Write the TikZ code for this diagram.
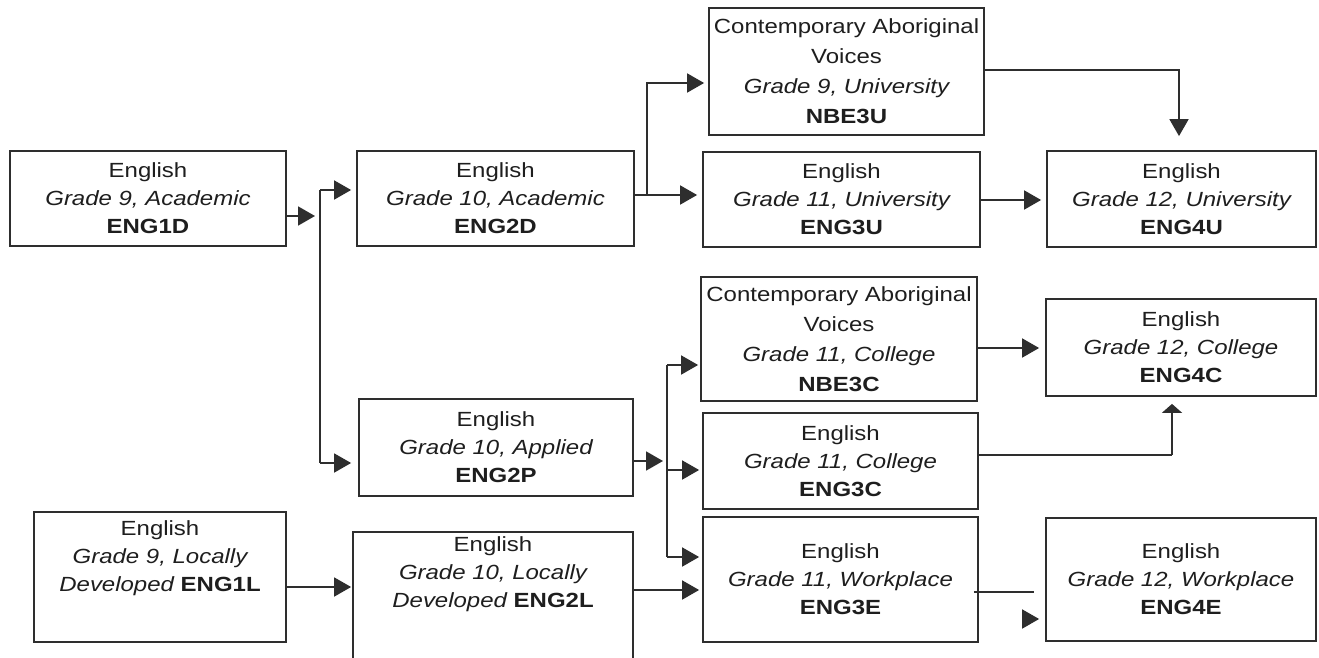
\documentclass[tikz,border=0pt]{standalone}
\usepackage{fontspec}
\setmainfont{Liberation Sans}[FakeStretch=1.17]
\usetikzlibrary{arrows.meta}
\definecolor{ink}{HTML}{1E1E1E}
\definecolor{edge}{HTML}{2E2E2E}
\newcommand\cbox[7][]{%
  \node[box,#1,minimum width={(#5-#3)*1pt},minimum height={(#6-#4)*1pt}]
    (#2) at ({(#3+#5)/2},{(#4+#6)/2}) {#7};}
\begin{document}
\begin{tikzpicture}[x=1pt,y=-1pt,
  box/.style={draw=edge,line width=1.8pt,rectangle,inner sep=0pt,align=center,
              text=ink,font=\fontsize{20.5}{28}\selectfont},
  nbe/.style={font=\fontsize{20.5}{30}\selectfont},
  ln/.style={draw=edge,line width=1.8pt},
  arr/.style={ln,-{Triangle[length=17pt,width=19pt]}},
  flatarr/.style={ln,-{Triangle[length=9pt,width=20pt]}}]
\useasboundingbox (0,0) rectangle (1319,658);
\clip (0,0) rectangle (1319,658);
\fill[white] (0,0) rectangle (1319,658);

% boxes: name, x1, y1, x2, y2
\cbox{d1}{10}{151}{286}{246}{English\\{\itshape Grade 9, Academic}\\{\bfseries ENG1D}}
\cbox{d2}{357}{151}{634}{246}{English\\{\itshape Grade 10, Academic}\\{\bfseries ENG2D}}
\cbox[nbe]{n3u}{709}{8}{984}{135}{Contemporary Aboriginal\\Voices\\{\itshape Grade 9, University}\\{\bfseries NBE3U}}
\cbox{e3u}{703}{152}{980}{247}{English\\{\itshape Grade 11, University}\\{\bfseries ENG3U}}
\cbox{e4u}{1047}{151}{1316}{247}{English\\{\itshape Grade 12, University}\\{\bfseries ENG4U}}
\cbox{p2}{359}{399}{633}{496}{English\\{\itshape Grade 10, Applied}\\{\bfseries ENG2P}}
\cbox[nbe]{n3c}{701}{277}{977}{401}{Contemporary Aboriginal\\Voices\\{\itshape Grade 11, College}\\{\bfseries NBE3C}}
\cbox{e3c}{703}{413}{978}{509}{English\\{\itshape Grade 11, College}\\{\bfseries ENG3C}}
\cbox{e3e}{703}{517}{978}{642}{English\\{\itshape Grade 11, Workplace}\\{\bfseries ENG3E}}
\cbox{e4c}{1046}{299}{1316}{396}{English\\{\itshape Grade 12, College}\\{\bfseries ENG4C}}
\cbox{e4e}{1046}{518}{1316}{641}{English\\{\itshape Grade 12, Workplace}\\{\bfseries ENG4E}}
\cbox{l1}{34}{512}{286}{642}{English\\{\itshape Grade 9, Locally}\\{\itshape Developed} {\bfseries ENG1L}\\[14pt]\mbox{}}
\cbox{l2}{353}{532}{633}{700}{English\\{\itshape Grade 10, Locally}\\{\itshape Developed} {\bfseries ENG2L}\\[60pt]\mbox{}}

% helper coordinates
\coordinate (a1) at (315,216);
\coordinate (j1t) at (320,190);
\coordinate (j1b) at (320,463);
\coordinate (j2) at (647,195);
\coordinate (a2) at (663,461);
\coordinate (j3t) at (667,365);
\coordinate (j3m) at (667,470);
\coordinate (j3b) at (667,557);
\coordinate (c1) at (0,587);
\coordinate (c2) at (0,590);
\coordinate (c4) at (0,348);
\coordinate (c5) at (0,200);
\coordinate (c6) at (1179,70);
\coordinate (c7) at (1172,455);
\coordinate (c8) at (1034,592);
\coordinate (c9) at (1023,619);

% grade 9 academic -> grade 10
\draw[arr] (d1.east |- a1) -- (a1);
\draw[ln] (j1t) -- (j1b);
\draw[arr,shorten >=5pt] (j1t) -- (d2.west |- j1t);
\draw[arr,shorten >=7pt] (j1b) -- (p2.west |- j1b);

% grade 10 academic -> grade 11
\draw[arr,shorten >=5pt] (d2.east |- j2) -- (e3u.west |- j2);
\draw[arr,shorten >=4pt] (j2) |- ([yshift=-11.5pt]n3u.west);

% university stream -> grade 12
\draw[arr,shorten <=-1pt,shorten >=5pt] (e3u.east |- c5) -- (e4u.west |- c5);
\draw[arr,shorten >=14pt] (n3u.east |- c6) -| (e4u.north -| c6);

% grade 10 applied -> grade 11
\draw[arr] (p2.east |- a2) -- (a2);
\draw[ln] (j3t) -- (j3b);
\draw[arr,shorten >=2pt] (j3t) -- (n3c.west |- j3t);
\draw[arr,shorten >=3pt] (j3m) -- (e3c.west |- j3m);
\draw[arr,shorten >=3pt] (j3b) -- (e3e.west |- j3b);

% college stream -> grade 12
\draw[arr,shorten >=6pt] (n3c.east |- c4) -- (e4c.west |- c4);
\draw[ln] (e3c.east |- c7) -- (c7);
\draw[flatarr,shorten >=7pt] (c7) -- (e4c.south -| c7);

% locally developed
\draw[arr,shorten >=1pt] (l1.east |- c1) -- (l2.west |- c1);
\draw[arr,shorten >=3pt] (l2.east |- c2) -- (e3e.west |- c2);

% workplace
\draw[ln,shorten <=-5pt] (e3e.east |- c8) -- (c8);
\draw[arr,shorten >=6pt] (c9) -- (e4e.west |- c9);
\end{tikzpicture}
\end{document}
